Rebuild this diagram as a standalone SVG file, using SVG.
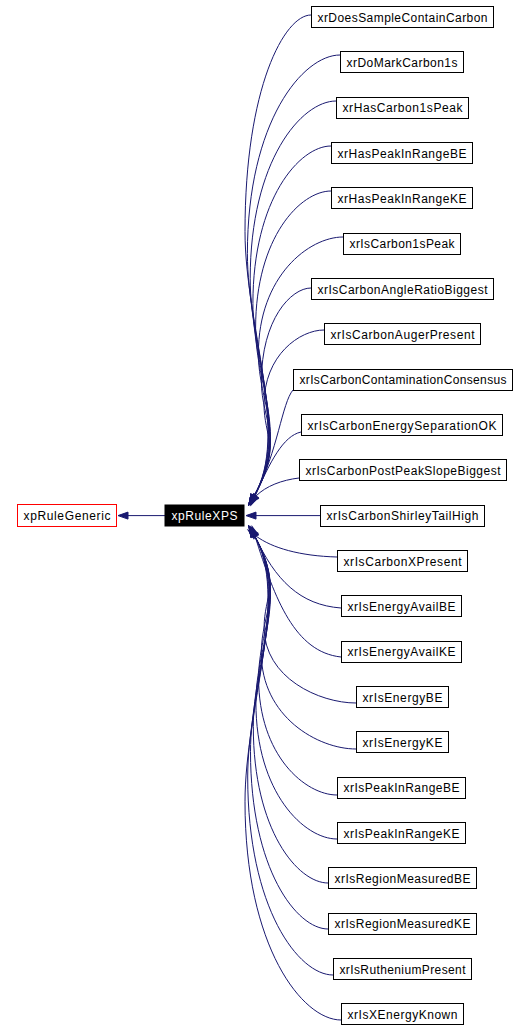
<svg xmlns="http://www.w3.org/2000/svg" width="527" height="1031" viewBox="0 0 527 1031">
<style>
.n rect{fill:#fff;stroke:#000;stroke-width:1}
.n text{font-family:"Liberation Sans",Arial,sans-serif;font-size:12px;text-anchor:middle;fill:#000}
#edges path{fill:none;stroke:#191970;stroke-width:1;marker-end:url(#ah)}
</style>
<defs>
<marker id="ah" markerUnits="userSpaceOnUse" markerWidth="11" markerHeight="8" refX="0" refY="3.5" orient="auto" overflow="visible">
<path d="M0,0 L10,3.5 L0,7 z" fill="#191970" stroke="#191970" stroke-width="1"/>
</marker>
</defs>
<rect width="527" height="1031" fill="#fff"/>
<g id="edges">
<path d="M165,515.6 L128,515.6"/>
<path d="M311,15 C284.6,15 245,87.2 245,231.5 C245,324.1 290,435 254,496"/>
<path d="M340,55 C303,55 247.4,121.2 247.4,253.5 C247.4,338.4 290,435 254,496"/>
<path d="M336,101 C301.7,101 250.2,160.3 250.2,278.8 C250.2,354.8 290,435 254,496"/>
<path d="M331,146 C299.8,146 252.9,198.5 252.9,303.5 C252.9,370.9 290,435 254,496"/>
<path d="M331,191 C300.8,191 255.6,236.8 255.6,328.3 C255.6,387 290,435 254,496"/>
<path d="M343,237 C309.2,237 258.4,275.9 258.4,353.6 C258.4,403.4 288,438 254,496"/>
<path d="M311,288 C291.2,288 261.4,319.2 261.4,381.6 C261.4,421.6 286,440 254,496"/>
<path d="M324,330 C300,330 264,354.9 264,404.7 C264,436.7 281.4,445.8 254,496"/>
<path d="M293,390 C282,403 278,450 255,496"/>
<path d="M301,432 C283,436 270,462 255,496"/>
<path d="M299,478 C282,480 266,486 256,496"/>
<path d="M320,515.6 L256,515.6"/>
<path d="M337,557 C300,556 272,548 256,536"/>
<path d="M341,608 C300,605 275,580 255,536"/>
<path d="M341,657 C295,652 275,600 255,536"/>
<path d="M356,703 C319.2,703 264.1,677.8 264.1,627.4 C264.1,595.1 281.7,585.8 254,535"/>
<path d="M356,749 C318.1,749 261.3,716.9 261.3,652.7 C261.3,611.5 286,591 254,535"/>
<path d="M337,795 C305.6,795 258.6,756 258.6,678 C258.6,628 288,593 254,535"/>
<path d="M337,839 C304.6,839 255.9,793.4 255.9,702.2 C255.9,643.7 290,596 254,535"/>
<path d="M328,883 C298.1,883 253.3,830.8 253.3,726.4 C253.3,659.4 290,596 254,535"/>
<path d="M328,929 C297,929 250.5,869.9 250.5,751.7 C250.5,675.9 290,596 254,535"/>
<path d="M333,975 C298.9,975 247.7,909 247.7,777 C247.7,692.3 290,596 254,535"/>
<path d="M341,1020 C302.6,1020 245,947.3 245,801.8 C245,708.4 290,596 254,535"/>
</g>
<g id="xpRuleGeneric" class="n"><rect x="17.5" y="504.5" width="99" height="22" style="stroke:#ff0000"/><text x="67" y="520" textLength="87" lengthAdjust="spacing">xpRuleGeneric</text></g>
<g id="xpRuleXPS" class="n"><rect x="165" y="505" width="79" height="21" style="fill:#000;stroke:#000"/><text x="204.5" y="520" textLength="66" lengthAdjust="spacing" style="fill:#fff">xpRuleXPS</text></g>
<g id="n1" class="n"><rect x="311.5" y="6.5" width="182" height="21"/><text x="402.5" y="21.5" textLength="170" lengthAdjust="spacing">xrDoesSampleContainCarbon</text></g>
<g id="n2" class="n"><rect x="340.5" y="51.5" width="123" height="21"/><text x="402" y="66.8" textLength="111" lengthAdjust="spacing">xrDoMarkCarbon1s</text></g>
<g id="n3" class="n"><rect x="336.5" y="97.5" width="132" height="21"/><text x="402.5" y="112" textLength="120" lengthAdjust="spacing">xrHasCarbon1sPeak</text></g>
<g id="n4" class="n"><rect x="331.5" y="142.5" width="141" height="21"/><text x="402" y="157.5" textLength="129" lengthAdjust="spacing">xrHasPeakInRangeBE</text></g>
<g id="n5" class="n"><rect x="331.5" y="187.5" width="141" height="21"/><text x="402" y="202.8" textLength="129" lengthAdjust="spacing">xrHasPeakInRangeKE</text></g>
<g id="n6" class="n"><rect x="343.5" y="233.5" width="117" height="21"/><text x="402" y="248" textLength="105" lengthAdjust="spacing">xrIsCarbon1sPeak</text></g>
<g id="n7" class="n"><rect x="311.5" y="278.5" width="182" height="21"/><text x="402.5" y="293.5" textLength="170" lengthAdjust="spacing">xrIsCarbonAngleRatioBiggest</text></g>
<g id="n8" class="n"><rect x="324.5" y="323.5" width="156" height="21"/><text x="402.5" y="338.8" textLength="144" lengthAdjust="spacing">xrIsCarbonAugerPresent</text></g>
<g id="n9" class="n"><rect x="293.5" y="369.5" width="219" height="21"/><text x="403" y="384" textLength="207" lengthAdjust="spacing">xrIsCarbonContaminationConsensus</text></g>
<g id="n10" class="n"><rect x="301.5" y="414.5" width="201" height="21"/><text x="402" y="429.5" textLength="189" lengthAdjust="spacing">xrIsCarbonEnergySeparationOK</text></g>
<g id="n11" class="n"><rect x="299.5" y="459.5" width="207" height="21"/><text x="403" y="474.8" textLength="195" lengthAdjust="spacing">xrIsCarbonPostPeakSlopeBiggest</text></g>
<g id="n12" class="n"><rect x="320.5" y="505.5" width="164" height="21"/><text x="402.5" y="520" textLength="152" lengthAdjust="spacing">xrIsCarbonShirleyTailHigh</text></g>
<g id="n13" class="n"><rect x="337.5" y="550.5" width="130" height="21"/><text x="402.5" y="565.5" textLength="118" lengthAdjust="spacing">xrIsCarbonXPresent</text></g>
<g id="n14" class="n"><rect x="341.5" y="595.5" width="120" height="21"/><text x="401.5" y="610.8" textLength="108" lengthAdjust="spacing">xrIsEnergyAvailBE</text></g>
<g id="n15" class="n"><rect x="341.5" y="641.5" width="120" height="21"/><text x="401.5" y="656" textLength="108" lengthAdjust="spacing">xrIsEnergyAvailKE</text></g>
<g id="n16" class="n"><rect x="356.5" y="686.5" width="92" height="21"/><text x="402.5" y="701.5" textLength="80" lengthAdjust="spacing">xrIsEnergyBE</text></g>
<g id="n17" class="n"><rect x="356.5" y="731.5" width="92" height="21"/><text x="402.5" y="746.8" textLength="80" lengthAdjust="spacing">xrIsEnergyKE</text></g>
<g id="n18" class="n"><rect x="337.5" y="777.5" width="128" height="21"/><text x="401.5" y="792" textLength="116" lengthAdjust="spacing">xrIsPeakInRangeBE</text></g>
<g id="n19" class="n"><rect x="337.5" y="822.5" width="128" height="21"/><text x="401.5" y="837.5" textLength="116" lengthAdjust="spacing">xrIsPeakInRangeKE</text></g>
<g id="n20" class="n"><rect x="328.5" y="867.5" width="148" height="21"/><text x="402.5" y="882.8" textLength="136" lengthAdjust="spacing">xrIsRegionMeasuredBE</text></g>
<g id="n21" class="n"><rect x="328.5" y="913.5" width="148" height="21"/><text x="402.5" y="928" textLength="136" lengthAdjust="spacing">xrIsRegionMeasuredKE</text></g>
<g id="n22" class="n"><rect x="333.5" y="958.5" width="138" height="21"/><text x="402.5" y="973.5" textLength="126" lengthAdjust="spacing">xrIsRutheniumPresent</text></g>
<g id="n23" class="n"><rect x="341.5" y="1003.5" width="122" height="21"/><text x="402.5" y="1018.8" textLength="110" lengthAdjust="spacing">xrIsXEnergyKnown</text></g>
</svg>
